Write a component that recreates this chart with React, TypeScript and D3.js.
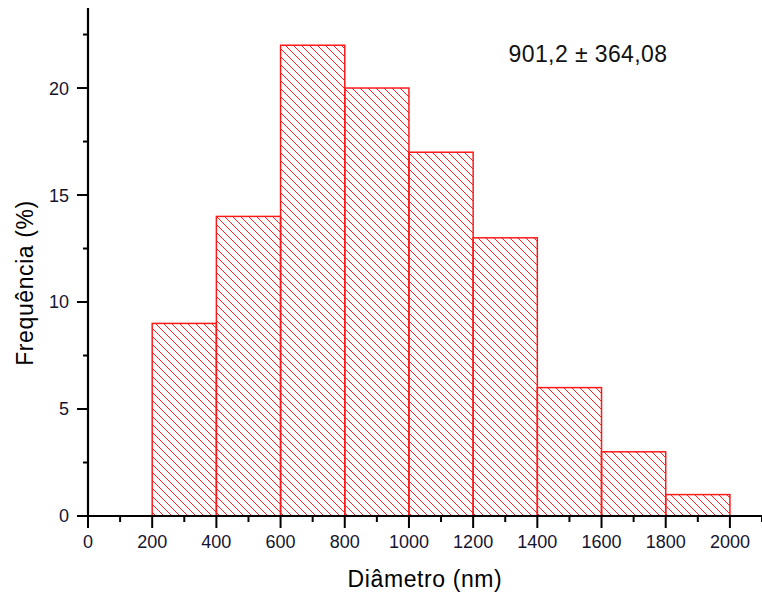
import React from "react";
import * as d3 from "d3";

const binStarts = [200, 400, 600, 800, 1000, 1200, 1400, 1600, 1800];
const binWidth = 200;
const frequencies = [9, 14, 22, 20, 17, 13, 6, 3, 1];
const xTicks = [0, 200, 400, 600, 800, 1000, 1200, 1400, 1600, 1800, 2000];
const yTicks = [0, 5, 10, 15, 20];
const annotation = "901,2 ± 364,08";

export default function App() {
  const W = 762, H = 599;
  const x = d3.scaleLinear().domain([0, 2100]).range([88, 762]);
  const y = d3.scaleLinear().domain([0, 23.74]).range([516, 8]);
  const xMinor = d3.range(0, 2101, 100).filter((v) => v % 200 !== 0);
  const yMinor = d3.range(2.5, 23.74, 5);
  const font = "Arial, 'Liberation Sans', sans-serif";
  const textColor = "#151530";
  const hs = 8;
  return (
    <svg width={W} height={H} style={{ position: "absolute", left: 0, top: 0, background: "#fff" }}>
      <defs>
        <pattern id="hatch" patternUnits="userSpaceOnUse" width={hs} height={hs}>
          <path
            d={`M-2,-2 L${hs + 2},${hs + 2} M-2,${hs - 2} L2,${hs + 2} M${hs - 2},-2 L${hs + 2},2`}
            stroke="#ff2020"
            strokeWidth={1}
          />
        </pattern>
      </defs>
      {binStarts.map((s, i) => (
        <rect
          key={s}
          x={x(s)}
          y={y(frequencies[i])}
          width={x(s + binWidth) - x(s)}
          height={y(0) - y(frequencies[i])}
          fill="url(#hatch)"
          stroke="#ff1a1a"
          strokeWidth={1.5}
        />
      ))}
      <line x1={x(0)} x2={x(0)} y1={y(0) + 1} y2={y(23.74)} stroke="#000" strokeWidth={2.2} />
      <line x1={x(0) - 1} x2={x(2100)} y1={y(0)} y2={y(0)} stroke="#000" strokeWidth={2.2} />
      {xTicks.map((t) => (
        <g key={"xt" + t}>
          <line x1={x(t)} x2={x(t)} y1={y(0)} y2={y(0) + 12} stroke="#000" strokeWidth={2} />
          <text x={x(t)} y={548} textAnchor="middle" fontFamily={font} fontSize={18} fill={textColor}>
            {t}
          </text>
        </g>
      ))}
      {xMinor.map((t) => (
        <line key={"xm" + t} x1={x(t)} x2={x(t)} y1={y(0)} y2={y(0) + 6} stroke="#000" strokeWidth={2} />
      ))}
      {yTicks.map((t) => (
        <g key={"yt" + t}>
          <line x1={x(0) - 11} x2={x(0)} y1={y(t)} y2={y(t)} stroke="#000" strokeWidth={2} />
          <text x={x(0) - 19} y={y(t)} dy="0.36em" textAnchor="end" fontFamily={font} fontSize={18} fill={textColor}>
            {t}
          </text>
        </g>
      ))}
      {yMinor.map((t) => (
        <line key={"ym" + t} x1={x(0) - 5} x2={x(0)} y1={y(t)} y2={y(t)} stroke="#000" strokeWidth={2} />
      ))}
      <text x={425} y={587} textAnchor="middle" fontFamily={font} fontSize={23} letterSpacing={0.6} fill="#000">
        Diâmetro (nm)
      </text>
      <text
        transform={`translate(33,${283}) rotate(-90)`}
        textAnchor="middle"
        fontFamily={font}
        fontSize={23}
        letterSpacing={0.6}
        fill="#000"
      >
        Frequência (%)
      </text>
      <text x={588} y={62} textAnchor="middle" fontFamily={font} fontSize={23} letterSpacing={0.4} fill="#111">
        {annotation}
      </text>
    </svg>
  );
}
